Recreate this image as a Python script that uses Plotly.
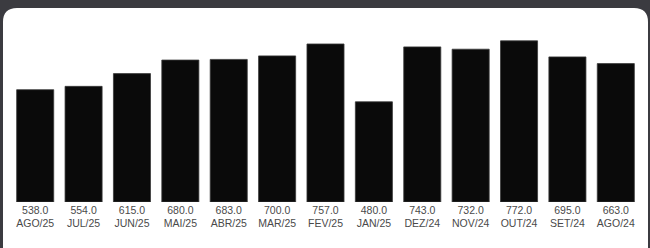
import plotly.graph_objects as go

months = ["AGO/25", "JUL/25", "JUN/25", "MAI/25", "ABR/25", "MAR/25", "FEV/25",
          "JAN/25", "DEZ/24", "NOV/24", "OUT/24", "SET/24", "AGO/24"]
values = [538.0, 554.0, 615.0, 680.0, 683.0, 700.0, 757.0,
          480.0, 743.0, 732.0, 772.0, 695.0, 663.0]

W, H = 650, 248
ML, MR, MT, MB = 11, 10, 35, 46
PW = W - ML - MR
PH = H - MT - MB
DARK = "#3b3b40"

def px2x(px):
    return (px - ML) / PW

def py2y(py):
    return (H - MB - py) / PH

fig = go.Figure()
fig.add_trace(go.Bar(
    x=months, y=values,
    marker=dict(color="#0a0a0a", line=dict(color="#3a3a3a", width=0.8)),
    hoverinfo="skip",
))

# dark photographed frame around the white card
L, R, T, B = px2x(-5), px2x(W + 5), py2y(-5), py2y(H + 5)
cx0, cx1, cy0 = px2x(3), px2x(648), py2y(8)
rx, ry = 14 / PW, 14 / PH
frame = [
    (L, cy0, R, T),          # top strip
    (L, B, cx0, T),          # left strip
    (cx1, B, R, T),          # right strip
]
for a, b, c, d in frame:
    fig.add_shape(type="rect", xref="paper", yref="paper", x0=a, y0=b, x1=c, y1=d,
                  fillcolor=DARK, line=dict(width=0), layer="below")
corners = [
    f"M {cx0},{cy0} L {cx0+rx},{cy0} Q {cx0},{cy0} {cx0},{cy0-ry} Z",
    f"M {cx1},{cy0} L {cx1-rx},{cy0} Q {cx1},{cy0} {cx1},{cy0-ry} Z",
]
for p in corners:
    fig.add_shape(type="path", path=p, xref="paper", yref="paper",
                  fillcolor=DARK, line=dict(width=0), layer="below")

fig.update_layout(
    width=W, height=H,
    margin=dict(l=ML, r=MR, t=MT, b=MB),
    paper_bgcolor="white",
    plot_bgcolor="rgba(0,0,0,0)",
    bargap=0.234,
    showlegend=False,
    font=dict(family="Liberation Sans, Arial, sans-serif", color="#4a4a4a"),
    xaxis=dict(
        tickmode="array",
        tickvals=months,
        ticktext=[f"{v:.1f}<br>{m}" for v, m in zip(values, months)],
        tickfont=dict(size=10.5, color="#4a4a4a"),
        showgrid=False, zeroline=False, showline=False, ticks="",
        range=[-0.5, len(months) - 0.5],
    ),
    yaxis=dict(range=[0, 800], visible=False),
)

fig.write_html(
    "out.html",
    config={"displayModeBar": False, "staticPlot": True},
    post_script="document.body.style.margin='0';document.body.style.overflow='hidden';",
)
